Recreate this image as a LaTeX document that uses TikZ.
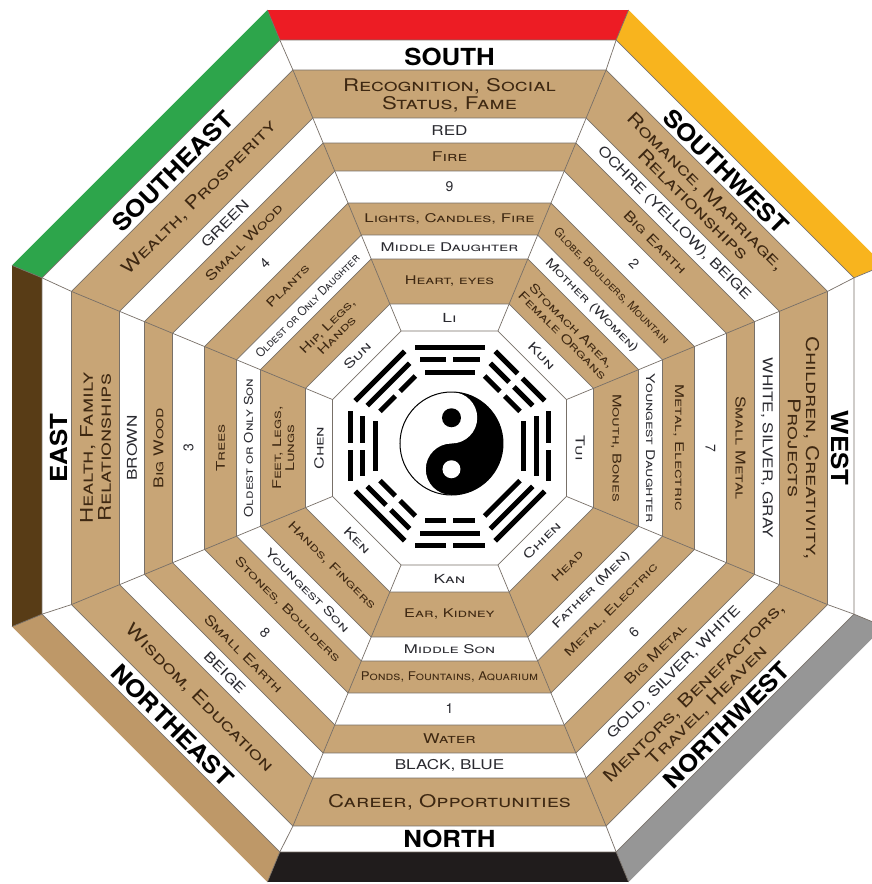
\documentclass[tikz,border=0pt]{standalone}
\usepackage{fontspec}
\setmainfont{TeX Gyre Heros}
\usepackage{graphicx}
\definecolor{ringtan}{RGB}{200,165,118}
\definecolor{linegray}{RGB}{120,112,104}
\definecolor{txtt}{RGB}{62,40,18}
\definecolor{txtw}{RGB}{42,42,48}
\definecolor{fsouth}{RGB}{237,28,36}
\definecolor{fsw}{RGB}{248,180,30}
\definecolor{fse}{RGB}{45,165,75}
\definecolor{feast}{RGB}{88,60,22}
\definecolor{fne}{RGB}{190,152,104}
\definecolor{fnorth}{RGB}{32,28,28}
\definecolor{fnw}{RGB}{150,150,150}
\newcommand\kk{1.0823922}
\newcommand\octp[1]{(22.5:{#1*\kk}) -- (67.5:{#1*\kk}) -- (112.5:{#1*\kk}) -- (157.5:{#1*\kk}) -- (202.5:{#1*\kk}) -- (247.5:{#1*\kk}) -- (292.5:{#1*\kk}) -- (337.5:{#1*\kk}) -- cycle}
\newcommand\xf{1.3}
% single line label
\newcommand\X[2][\xf]{\scalebox{#1}[1]{#2}}
% two line label (strut below the last line trimmed)
\newcommand\XX[2][\xf]{\raisebox{0pt}[\height][\dimexpr\depth-0.3\baselineskip\relax]{\scalebox{#1}[1]{\begin{tabular}{@{}c@{}}#2\end{tabular}}}}
\newcommand\trl[3]{% y, halflength, solid?
  \ifnum#3=1
    \fill (-#2,#1-2.5) rectangle (#2,#1+2.5);
  \else
    \fill (-#2,#1-2.5) rectangle (-3.5,#1+2.5);
    \fill (3.5,#1-2.5) rectangle (#2,#1+2.5);
  \fi}
\tikzset{
  lbl/.style={inner sep=0pt},
  dirl/.style={lbl, text=black, font=\fontsize{23.5}{24}\selectfont\bfseries\def\xf{1.1}},
  aspl/.style={lbl, text=txtt, font=\fontsize{17.5}{18}\selectfont\scshape\def\xf{1.27}},
  coll/.style={lbl, text=txtw, font=\fontsize{13.5}{14}\selectfont\def\xf{1.27}},
  elel/.style={lbl, text=txtt, font=\fontsize{13.5}{14}\selectfont\scshape\def\xf{1.3}},
  numl/.style={lbl, text=txtw, font=\fontsize{14}{14}\selectfont},
  iteml/.style={lbl, text=txtt, font=\fontsize{12}{13}\selectfont\scshape\def\xf{1.4}},
  faml/.style={lbl, text=txtw, font=\fontsize{12}{13}\selectfont\scshape\def\xf{1.4}},
  bodyl/.style={lbl, text=txtt, font=\fontsize{12}{13}\selectfont\scshape\def\xf{1.35}},
  trgl/.style={lbl, text=txtw, font=\fontsize{12.5}{13}\selectfont\scshape\def\xf{1.4}},
}
\begin{document}
\begin{tikzpicture}[x=1pt,y=1pt]
\useasboundingbox (-448,-438) rectangle (424,446);
\clip (-448,-438) rectangle (424,446);
% outer coloured frame
\foreach \a/\c in {90/fsouth,45/fsw,0/white,-45/fnw,-90/fnorth,-135/fne,180/feast,135/fse}{
  \fill[\c] ({\a-22.5}:{436*\kk}) -- ({\a+22.5}:{436*\kk}) -- ({\a+22.5}:{406*\kk}) -- ({\a-22.5}:{406*\kk}) -- cycle;
}
\filldraw[fill=white, draw=linegray, line width=0.7pt] \octp{406};
\foreach \a in {22.5,67.5,...,337.5}{
  \draw[linegray, line width=0.7pt] ([xshift=1.5pt,yshift=-2pt]\a:{378*\kk}) -- (\a:{406*\kk}) -- (\a:{436*\kk});
}
\begin{scope}[shift={(1.5,-2)}]
% rings
\foreach \r/\c in {378/ringtan,330/white,305/ringtan,277/white,245/ringtan,213/white,189/ringtan,144/white,117/white}{
  \filldraw[fill=\c, draw=linegray, line width=0.7pt] \octp{\r};
}
\foreach \a in {22.5,67.5,...,337.5}{
  \draw[linegray, line width=0.7pt] (\a:{117*\kk}) -- (\a:{378*\kk});
}
% ---- SOUTH
\node[dirl] (dS) at (90:391) {\X{SOUTH}};
\node[aspl] (aS) at (90:354) {\XX{Recognition, Social\\Status, Fame}};
\node[coll] (cS) at (90:317.5) {\X{RED}};
\node[elel] (eS) at (90:291) {\X{Fire}};
\node[numl] (nS) at (90:261) {9};
\node[iteml] (iS) at (90:229) {\X{Lights, Candles, Fire}};
\node[faml] (fS) at (90:201) {\X{Middle Daughter}};
\node[bodyl] (bS) at (90:166.5) {\X{Heart, eyes}};
\node[trgl] (tS) at (90:130.5) {\X{Li}};
% ---- SOUTHWEST
\node[dirl,rotate=-45] (dSW) at (45:391) {\X{SOUTHWEST}};
\node[aspl,rotate=-45] (aSW) at (45:354) {\XX{Romance, Marriage,\\Relationships}};
\node[coll,rotate=-45] (cSW) at (45:317.5) {\X{OCHRE (YELLOW), BEIGE}};
\node[elel,rotate=-45] (eSW) at (45:291) {\X{Big Earth}};
\node[numl,rotate=-45] (nSW) at (45:261) {2};
\node[iteml,rotate=-45] (iSW) at (45:229) {\X[1.0]{Globe, Boulders, Mountain}};
\node[faml,rotate=-45] (fSW) at (45:201) {\X[1.32]{Mother (Women)}};
\node[bodyl,rotate=-45] (bSW) at (45:166.5) {\XX{Stomach Area,\\Female Organs}};
\node[trgl,rotate=-45] (tSW) at (45:130.5) {\X{Kun}};
% ---- WEST
\node[dirl,rotate=-90] (dW) at (0:391) {\X{WEST}};
\node[aspl,rotate=-90] (aW) at (0:354) {\XX{Children, Creativity,\\Projects}};
\node[coll,rotate=-90] (cW) at (0:317.5) {\X{WHITE, SILVER, GRAY}};
\node[elel,rotate=-90] (eW) at (0:291) {\X{Small Metal}};
\node[numl,rotate=-90] (nW) at (0:261) {7};
\node[iteml,rotate=-90] (iW) at (0:229) {\X{Metal, Electric}};
\node[faml,rotate=-90] (fW) at (0:201) {\X[1.3]{Youngest Daughter}};
\node[bodyl,rotate=-90] (bW) at (0:166.5) {\X{Mouth, Bones}};
\node[trgl,rotate=-90] (tW) at (0:130.5) {\X{Tui}};
% ---- NORTHWEST
\node[dirl,rotate=45] (dNW) at (-45:392) {\X{NORTHWEST}};
\node[aspl,rotate=45] (aNW) at (-45:354) {\XX{Mentors, Benefactors,\\Travel, Heaven}};
\node[coll,rotate=45] (cNW) at (-45:317.5) {\X{GOLD, SILVER, WHITE}};
\node[elel,rotate=45] (eNW) at (-45:291) {\X{Big Metal}};
\node[numl,rotate=45] (nNW) at (-45:261) {6};
\node[iteml,rotate=45] (iNW) at (-45:229) {\X{Metal, Electric}};
\node[faml,rotate=45] (fNW) at (-45:201) {\X{Father (Men)}};
\node[bodyl,rotate=45] (bNW) at (-45:166.5) {\X{Head}};
\node[trgl,rotate=45] (tNW) at (-45:130.5) {\X{Chien}};
% ---- NORTH
\node[dirl] (dN) at (-90:391) {\X{NORTH}};
\node[aspl] (aN) at (-90:354) {\X{Career, Opportunities}};
\node[coll] (cN) at (-90:317.5) {\X{BLACK, BLUE}};
\node[elel] (eN) at (-90:291) {\X{Water}};
\node[numl] (nN) at (-90:261) {1};
\node[iteml] (iN) at (-90:229) {\X[1.1]{Ponds, Fountains, Aquarium}};
\node[faml] (fN) at (-90:201) {\X{Middle Son}};
\node[bodyl] (bN) at (-90:166.5) {\X{Ear, Kidney}};
\node[trgl] (tN) at (-90:130.5) {\X{Kan}};
% ---- NORTHEAST
\node[dirl,rotate=-45] (dNE) at (-135:392) {\X{NORTHEAST}};
\node[aspl,rotate=-45] (aNE) at (-135:354) {\X{Wisdom, Education}};
\node[coll,rotate=-45] (cNE) at (-135:317.5) {\X{BEIGE}};
\node[elel,rotate=-45] (eNE) at (-135:291) {\X{Small Earth}};
\node[numl,rotate=-45] (nNE) at (-135:261) {8};
\node[iteml,rotate=-45] (iNE) at (-135:229) {\X{Stones, Boulders}};
\node[faml,rotate=-45] (fNE) at (-135:201) {\X{Youngest Son}};
\node[bodyl,rotate=-45] (bNE) at (-135:166.5) {\X{Hands, Fingers}};
\node[trgl,rotate=-45] (tNE) at (-135:130.5) {\X{Ken}};
% ---- EAST
\node[dirl,rotate=90] (dE) at (180:391) {\X{EAST}};
\node[aspl,rotate=90] (aE) at (180:354) {\XX{Health, Family\\Relationships}};
\node[coll,rotate=90] (cE) at (180:317.5) {\X{BROWN}};
\node[elel,rotate=90] (eE) at (180:291) {\X{Big Wood}};
\node[numl,rotate=90] (nE) at (180:261) {3};
\node[iteml,rotate=90] (iE) at (180:229) {\X{Trees}};
\node[faml,rotate=90] (fE) at (180:201) {\X[1.2]{Oldest or Only Son}};
\node[bodyl,rotate=90] (bE) at (180:166.5) {\XX{Feet, Legs,\\Lungs}};
\node[trgl,rotate=90] (tE) at (180:130.5) {\X{Chen}};
% ---- SOUTHEAST
\node[dirl,rotate=45] (dSE) at (135:391) {\X{SOUTHEAST}};
\node[aspl,rotate=45] (aSE) at (135:354) {\X{Wealth, Prosperity}};
\node[coll,rotate=45] (cSE) at (135:317.5) {\X{GREEN}};
\node[elel,rotate=45] (eSE) at (135:291) {\X{Small Wood}};
\node[numl,rotate=45] (nSE) at (135:261) {4};
\node[iteml,rotate=45] (iSE) at (135:229) {\X{Plants}};
\node[faml,rotate=45] (fSE) at (135:201) {\X[0.95]{Oldest or Only Daughter}};
\node[bodyl,rotate=45] (bSE) at (135:166.5) {\XX{Hip, Legs,\\Hands}};
\node[trgl,rotate=45] (tSE) at (135:130.5) {\X{Sun}};
\end{scope}
% trigrams (outer, middle, inner)
\begin{scope}[shift={(2,0)}]
\foreach \a/\o/\m/\i in {90/1/0/1,45/0/0/0,0/0/1/1,-45/1/1/1,-90/0/1/0,-135/1/0/0,180/0/0/1,135/1/1/0}{
  \begin{scope}[rotate=\a-90]
    \trl{99}{35}{\o}
    \trl{87}{30}{\m}
    \trl{74}{25}{\i}
  \end{scope}
}
\end{scope}
% yin yang
\begin{scope}[shift={(3.5,2.5)}]
  \fill[black] (0,0) circle (51.5);
  \fill[white] (0,51.5) arc[start angle=90,end angle=270,radius=51.5]
     arc[start angle=-90,end angle=-270,radius=25.75]
     arc[start angle=-90,end angle=90,radius=25.75] -- cycle;
  \draw[black, line width=1pt] (0,0) circle (51.5);
  \fill[black] (0,25.75) circle (9.5);
  \fill[white] (0,-25.75) circle (9);
\end{scope}
\end{tikzpicture}
\end{document}
